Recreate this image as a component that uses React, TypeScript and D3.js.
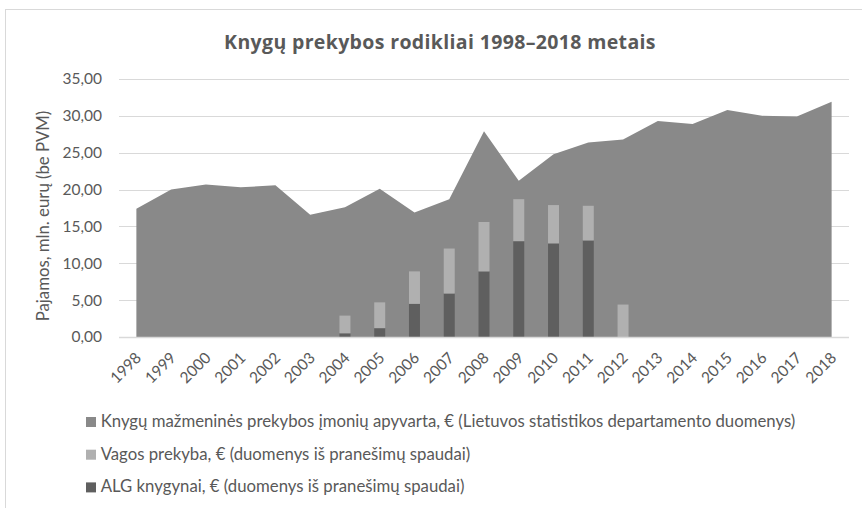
import React, { useRef, useEffect } from "react";
import * as d3 from "d3";

// Knygų prekybos rodikliai, mln. eurų
const years = [
  "1998", "1999", "2000", "2001", "2002", "2003", "2004", "2005", "2006", "2007", "2008",
  "2009", "2010", "2011", "2012", "2013", "2014", "2015", "2016", "2017", "2018",
];
const retailTotal = [
  17.4, 20.0, 20.7, 20.3, 20.6, 16.6, 17.6, 20.1, 16.9, 18.7, 27.9,
  21.2, 24.8, 26.4, 26.8, 29.3, 28.9, 30.8, 30.0, 29.9, 31.9,
];
const algSales = [
  0, 0, 0, 0, 0, 0, 0.5, 1.2, 4.5, 5.9, 8.9,
  13.0, 12.7, 13.1, 0, 0, 0, 0, 0, 0, 0,
];
const vagaSales = [
  0, 0, 0, 0, 0, 0, 2.4, 3.5, 4.4, 6.1, 6.7,
  5.7, 5.2, 4.7, 4.4, 0, 0, 0, 0, 0, 0,
];
const yTicks = [0, 5, 10, 15, 20, 25, 30, 35];
const legendItems = [
  { label: "Knygų mažmeninės prekybos įmonių apyvarta, € (Lietuvos statistikos departamento duomenys)", color: "#898989" },
  { label: "Vagos prekyba, € (duomenys iš pranešimų spaudai)", color: "#b0b0b0" },
  { label: "ALG knygynai, € (duomenys iš pranešimų spaudai)", color: "#5f5f5f" },
];

const FONT = "Lato, 'Open Sans', sans-serif";
const TITLE_FONT = "'Open Sans', Lato, sans-serif";
const TEXT = "#595959";

export default function App() {
  const ref = useRef<SVGSVGElement | null>(null);

  useEffect(() => {
    if (!ref.current) return;
    const svg = d3.select(ref.current);
    svg.selectAll("*").remove();

    const plot = { left: 119, right: 849, top: 79, bottom: 337 };

    // frame
    svg
      .append("rect")
      .attr("x", 5.5)
      .attr("y", 9.5)
      .attr("width", 900)
      .attr("height", 600)
      .attr("fill", "#fff")
      .attr("stroke", "#d9d9d9");

    const x = d3.scaleBand().domain(years).range([plot.left, plot.right]);
    const xBar = d3
      .scaleBand()
      .domain(years)
      .range([plot.left, plot.right])
      .paddingInner(0.684)
      .paddingOuter(0.342);
    const y = d3.scaleLinear().domain([0, 35]).range([plot.bottom, plot.top]);
    const fmt = d3.formatLocale({ decimal: ",", thousands: " ", grouping: [3], currency: ["", "€"] }).format(".2f");

    // gridlines
    svg
      .append("g")
      .selectAll("line")
      .data(yTicks.filter((t) => t > 0))
      .enter()
      .append("line")
      .attr("x1", plot.left)
      .attr("x2", plot.right)
      .attr("y1", (d) => Math.round(y(d)) + 0.5)
      .attr("y2", (d) => Math.round(y(d)) + 0.5)
      .attr("stroke", "#d9d9d9")
      .attr("stroke-width", 1.2);

    // y tick labels
    svg
      .append("g")
      .selectAll("text")
      .data(yTicks)
      .enter()
      .append("text")
      .attr("x", 102)
      .attr("y", (d) => y(d))
      .attr("dy", "0.35em")
      .attr("text-anchor", "end")
      .attr("font-family", FONT)
      .attr("font-size", 15.5)
      .attr("fill", TEXT)
      .text((d) => fmt(d));

    // area: total retail
    const cx = (d: string) => (x(d) as number) + x.bandwidth() / 2;
    const area = d3
      .area<number>()
      .x((_d, i) => cx(years[i]))
      .y0(y(0))
      .y1((d) => y(d));
    svg.append("path").datum(retailTotal).attr("d", area).attr("fill", "#898989");

    // stacked bars: ALG + Vaga
    const rows = years.map((yr, i) => ({ year: yr, alg: algSales[i], vaga: vagaSales[i] }));
    const stack = d3.stack<any>().keys(["alg", "vaga"])(rows);
    const barColors: Record<string, string> = { alg: "#5f5f5f", vaga: "#b0b0b0" };
    svg
      .append("g")
      .selectAll("g")
      .data(stack)
      .enter()
      .append("g")
      .attr("fill", (s) => barColors[s.key])
      .selectAll("rect")
      .data((s) => s.filter((p) => p[1] - p[0] > 0))
      .enter()
      .append("rect")
      .attr("x", (p) => xBar(p.data.year) as number)
      .attr("width", xBar.bandwidth())
      .attr("y", (p) => y(p[1]))
      .attr("height", (p) => y(p[0]) - y(p[1]));

    // x axis line
    svg
      .append("line")
      .attr("x1", plot.left)
      .attr("x2", plot.right)
      .attr("y1", y(0) + 0.5)
      .attr("y2", y(0) + 0.5)
      .attr("stroke", "#d9d9d9")
      .attr("stroke-width", 1.5);

    // x labels, rotated
    svg
      .append("g")
      .selectAll("text")
      .data(years)
      .enter()
      .append("text")
      .attr("transform", (d) => `translate(${cx(d) + 2},355) rotate(-45)`)
      .attr("dy", "0.35em")
      .attr("text-anchor", "end")
      .attr("font-family", FONT)
      .attr("font-size", 15.5)
      .attr("fill", TEXT)
      .text((d) => d);

    // y axis title
    svg
      .append("text")
      .attr("transform", "translate(49,216) rotate(-90)")
      .attr("text-anchor", "middle")
      .attr("font-family", FONT)
      .attr("font-size", 16.75)
      .attr("fill", TEXT)
      .text("Pajamos, mln. eurų (be PVM)");

    // title
    svg
      .append("text")
      .attr("x", 440)
      .attr("y", 49)
      .attr("text-anchor", "middle")
      .attr("font-family", TITLE_FONT)
      .attr("font-weight", "bold")
      .attr("font-size", 19.5)
      .attr("letter-spacing", 0.35)
      .attr("fill", TEXT)
      .text("Knygų prekybos rodikliai 1998–2018 metais");

    // legend
    const legend = svg
      .append("g")
      .selectAll("g")
      .data(legendItems)
      .enter()
      .append("g")
      .attr("transform", (_d, i) => `translate(86,${427 + i * 32.7})`);
    legend
      .append("rect")
      .attr("x", 0)
      .attr("y", -10)
      .attr("width", 10)
      .attr("height", 10)
      .attr("fill", (d) => d.color);
    legend
      .append("text")
      .attr("x", 14.7)
      .attr("y", 0)
      .attr("font-family", FONT)
      .attr("font-size", 16.75)
      .attr("fill", TEXT)
      .text((d) => d.label);

    return () => {
      svg.selectAll("*").remove();
    };
  }, []);

  return (
    <svg
      ref={ref}
      width={862}
      height={508}
      style={{ position: "absolute", left: 0, top: 0, background: "#fff" }}
    />
  );
}
